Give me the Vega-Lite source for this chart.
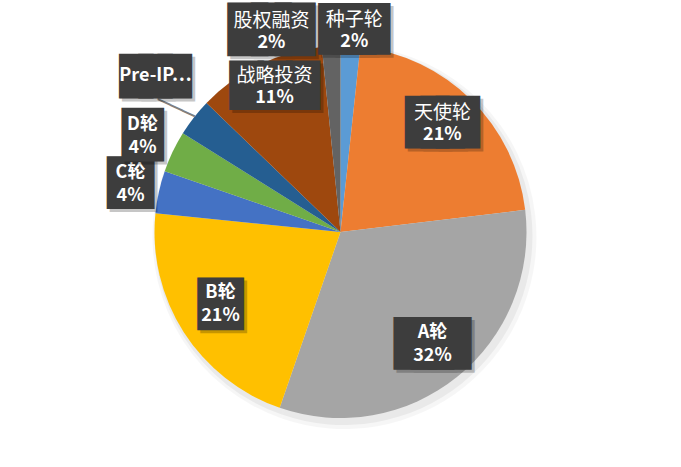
{
  "$schema": "https://vega.github.io/schema/vega-lite/v6.json",
  "width": 681,
  "height": 467,
  "autosize": {"type": "fit", "contains": "padding"},
  "padding": {"left": 0, "right": 0, "top": 0, "bottom": 3},
  "background": "white",
  "data": {
    "values": [
      {"name": "种子轮", "share": 0.017},
      {"name": "天使轮", "share": 0.214},
      {"name": "A轮", "share": 0.322},
      {"name": "B轮", "share": 0.213},
      {"name": "C轮", "share": 0.037},
      {"name": "D轮", "share": 0.036},
      {"name": "Pre-IPO", "share": 0.033},
      {"name": "战略投资", "share": 0.112},
      {"name": "股权融资", "share": 0.016}
    ]
  },
  "transform": [{"stack": "share", "groupby": [], "as": ["t0", "t1"]}],
  "layer": [
    {
      "mark": {"type": "arc", "radius": 192, "color": "#000", "opacity": 0.035, "xOffset": 4, "yOffset": 5},
      "encoding": {
        "theta": {"field": "t0", "type": "quantitative", "stack": null, "scale": {"domain": [0, 1]}},
        "theta2": {"field": "t1"}
      }
    },
    {
      "mark": {"type": "arc", "radius": 189, "color": "#000", "opacity": 0.05, "xOffset": 3, "yOffset": 4},
      "encoding": {
        "theta": {"field": "t0", "type": "quantitative", "stack": null, "scale": {"domain": [0, 1]}},
        "theta2": {"field": "t1"}
      }
    },
    {
      "mark": {"type": "arc", "radius": 186},
      "encoding": {
        "theta": {"field": "t0", "type": "quantitative", "stack": null, "scale": {"domain": [0, 1]}},
        "theta2": {"field": "t1"},
        "color": {
          "field": "name",
          "type": "nominal",
          "scale": {
            "domain": ["种子轮", "天使轮", "A轮", "B轮", "C轮", "D轮", "Pre-IPO", "战略投资", "股权融资"],
            "range": ["#5B9BD5", "#ED7D31", "#A5A5A5", "#FFC000", "#4472C4", "#70AD47", "#255E91", "#9E480E", "#636363"]
          },
          "legend": null
        }
      }
    },
    {
      "transform": [{"filter": "datum.name === 'Pre-IPO'"}],
      "mark": {"type": "text", "text": "───", "font": "DejaVu Sans", "fontSize": 22.5, "color": "#7f7f7f", "angle": 24.7, "radius": 205.7, "thetaOffset": 0.085, "baseline": "middle", "align": "center"},
      "encoding": {"theta": {"field": "t0", "type": "quantitative", "scale": {"domain": [0, 1]}}}
    },
    {
      "transform": [{"filter": "datum.name === '种子轮'"}],
      "encoding": {"theta": {"field": "t0", "type": "quantitative", "scale": {"domain": [0, 1]}}},
      "layer": [
        {"mark": {"type": "text", "text": "███", "font": "DejaVu Sans", "fontSize": 18.3, "fill": "#000", "stroke": "#000", "strokeWidth": 30, "strokeJoin": "miter", "opacity": 0.22, "radius": 203.5, "thetaOffset": 0.068, "dx": 3, "dy": 4, "baseline": "middle", "align": "center"}},
        {"mark": {"type": "text", "text": "███", "font": "DejaVu Sans", "fontSize": 18.3, "fill": "#3d3d3d", "stroke": "#3d3d3d", "strokeWidth": 30, "strokeJoin": "miter", "radius": 203.5, "thetaOffset": 0.068, "dy": 1, "baseline": "middle", "align": "center"}},
        {"mark": {"type": "text", "font": "Noto Sans CJK SC", "fontSize": 19, "color": "white", "radius": 203.5, "thetaOffset": 0.068, "dy": -9, "baseline": "middle", "align": "center"}, "encoding": {"text": {"field": "name"}}},
        {"mark": {"type": "text", "font": "Noto Sans CJK SC", "fontSize": 18, "fontWeight": "bold", "color": "white", "radius": 203.5, "thetaOffset": 0.068, "dy": 13, "baseline": "middle", "align": "center"}, "encoding": {"text": {"field": "share", "format": ".0%"}}}
      ]
    },
    {
      "transform": [{"filter": "datum.name === '天使轮'"}],
      "encoding": {"theta": {"field": "t0", "type": "quantitative", "scale": {"domain": [0, 1]}}},
      "layer": [
        {"mark": {"type": "text", "text": "███", "font": "DejaVu Sans", "fontSize": 20, "fill": "#000", "stroke": "#000", "strokeWidth": 29, "strokeJoin": "miter", "opacity": 0.22, "radius": 150, "thetaOffset": 0.64, "dx": 3, "dy": 4, "baseline": "middle", "align": "center"}},
        {"mark": {"type": "text", "text": "███", "font": "DejaVu Sans", "fontSize": 20, "fill": "#3d3d3d", "stroke": "#3d3d3d", "strokeWidth": 29, "strokeJoin": "miter", "radius": 150, "thetaOffset": 0.64, "dy": 1, "baseline": "middle", "align": "center"}},
        {"mark": {"type": "text", "font": "Noto Sans CJK SC", "fontSize": 19, "color": "white", "radius": 150, "thetaOffset": 0.64, "dy": -9, "baseline": "middle", "align": "center"}, "encoding": {"text": {"field": "name"}}},
        {"mark": {"type": "text", "font": "Noto Sans CJK SC", "fontSize": 18, "fontWeight": "bold", "color": "white", "radius": 150, "thetaOffset": 0.64, "dy": 13, "baseline": "middle", "align": "center"}, "encoding": {"text": {"field": "share", "format": ".0%"}}}
      ]
    },
    {
      "transform": [{"filter": "datum.name === 'A轮'"}],
      "encoding": {"theta": {"field": "t0", "type": "quantitative", "scale": {"domain": [0, 1]}}},
      "layer": [
        {"mark": {"type": "text", "text": "███", "font": "DejaVu Sans", "fontSize": 22.5, "fill": "#000", "stroke": "#000", "strokeWidth": 26, "strokeJoin": "miter", "opacity": 0.22, "radius": 144.2, "thetaOffset": 0.999, "dx": 3, "dy": 4, "baseline": "middle", "align": "center"}},
        {"mark": {"type": "text", "text": "███", "font": "DejaVu Sans", "fontSize": 22.5, "fill": "#3d3d3d", "stroke": "#3d3d3d", "strokeWidth": 26, "strokeJoin": "miter", "radius": 144.2, "thetaOffset": 0.999, "dy": 1, "baseline": "middle", "align": "center"}},
        {"mark": {"type": "text", "font": "Noto Sans CJK SC", "fontSize": 18, "fontWeight": "bold", "color": "white", "radius": 144.2, "thetaOffset": 0.999, "dy": -10, "baseline": "middle", "align": "center"}, "encoding": {"text": {"field": "name"}}},
        {"mark": {"type": "text", "font": "Noto Sans CJK SC", "fontSize": 18, "fontWeight": "bold", "color": "white", "radius": 144.2, "thetaOffset": 0.999, "dy": 13, "baseline": "middle", "align": "center"}, "encoding": {"text": {"field": "share", "format": ".0%"}}}
      ]
    },
    {
      "transform": [{"filter": "datum.name === 'B轮'"}],
      "encoding": {"theta": {"field": "t0", "type": "quantitative", "scale": {"domain": [0, 1]}}},
      "layer": [
        {"mark": {"type": "text", "text": "█", "font": "DejaVu Sans", "fontSize": 15, "fill": "#000", "stroke": "#000", "strokeWidth": 35, "strokeJoin": "miter", "opacity": 0.22, "radius": 139.4, "thetaOffset": 0.704, "dx": 3, "dy": 4, "baseline": "middle", "align": "center"}},
        {"mark": {"type": "text", "text": "█", "font": "DejaVu Sans", "fontSize": 15, "fill": "#3d3d3d", "stroke": "#3d3d3d", "strokeWidth": 35, "strokeJoin": "miter", "radius": 139.4, "thetaOffset": 0.704, "dy": 1, "baseline": "middle", "align": "center"}},
        {"mark": {"type": "text", "font": "Noto Sans CJK SC", "fontSize": 18, "fontWeight": "bold", "color": "white", "radius": 139.4, "thetaOffset": 0.704, "dy": -10, "baseline": "middle", "align": "center"}, "encoding": {"text": {"field": "name"}}},
        {"mark": {"type": "text", "font": "Noto Sans CJK SC", "fontSize": 18, "fontWeight": "bold", "color": "white", "radius": 139.4, "thetaOffset": 0.704, "dy": 13, "baseline": "middle", "align": "center"}, "encoding": {"text": {"field": "share", "format": ".0%"}}}
      ]
    },
    {
      "transform": [{"filter": "datum.name === 'C轮'"}],
      "encoding": {"theta": {"field": "t0", "type": "quantitative", "scale": {"domain": [0, 1]}}},
      "layer": [
        {"mark": {"type": "text", "text": "█", "font": "DejaVu Sans", "fontSize": 12.5, "fill": "#000", "stroke": "#000", "strokeWidth": 38, "strokeJoin": "miter", "opacity": 0.22, "radius": 215.6, "thetaOffset": 0.128, "dx": 3, "dy": 3, "baseline": "middle", "align": "center"}},
        {"mark": {"type": "text", "text": "█", "font": "DejaVu Sans", "fontSize": 12.5, "fill": "#3d3d3d", "stroke": "#3d3d3d", "strokeWidth": 38, "strokeJoin": "miter", "radius": 215.6, "thetaOffset": 0.128, "dy": 0, "baseline": "middle", "align": "center"}},
        {"mark": {"type": "text", "font": "Noto Sans CJK SC", "fontSize": 18, "fontWeight": "bold", "color": "white", "radius": 215.6, "thetaOffset": 0.128, "dy": -10, "baseline": "middle", "align": "center"}, "encoding": {"text": {"field": "name"}}},
        {"mark": {"type": "text", "font": "Noto Sans CJK SC", "fontSize": 18, "fontWeight": "bold", "color": "white", "radius": 215.6, "thetaOffset": 0.128, "dy": 13, "baseline": "middle", "align": "center"}, "encoding": {"text": {"field": "share", "format": ".0%"}}}
      ]
    },
    {
      "transform": [{"filter": "datum.name === 'D轮'"}],
      "encoding": {"theta": {"field": "t0", "type": "quantitative", "scale": {"domain": [0, 1]}}},
      "layer": [
        {"mark": {"type": "text", "text": "█", "font": "DejaVu Sans", "fontSize": 27.5, "fill": "#000", "stroke": "#000", "strokeWidth": 21, "strokeJoin": "miter", "opacity": 0.22, "radius": 220.5, "thetaOffset": 0.123, "dx": 3, "dy": 4, "baseline": "middle", "align": "center"}},
        {"mark": {"type": "text", "text": "█", "font": "DejaVu Sans", "fontSize": 27.5, "fill": "#3d3d3d", "stroke": "#3d3d3d", "strokeWidth": 21, "strokeJoin": "miter", "radius": 220.5, "thetaOffset": 0.123, "dy": 1, "baseline": "middle", "align": "center"}},
        {"mark": {"type": "text", "font": "Noto Sans CJK SC", "fontSize": 18, "fontWeight": "bold", "color": "white", "radius": 220.5, "thetaOffset": 0.123, "dy": -10, "baseline": "middle", "align": "center"}, "encoding": {"text": {"field": "name"}}},
        {"mark": {"type": "text", "font": "Noto Sans CJK SC", "fontSize": 18, "fontWeight": "bold", "color": "white", "radius": 220.5, "thetaOffset": 0.123, "dy": 13, "baseline": "middle", "align": "center"}, "encoding": {"text": {"field": "share", "format": ".0%"}}}
      ]
    },
    {
      "transform": [{"filter": "datum.name === 'Pre-IPO'"}],
      "encoding": {"theta": {"field": "t0", "type": "quantitative", "scale": {"domain": [0, 1]}}},
      "layer": [
        {"mark": {"type": "text", "text": "███", "font": "DejaVu Sans", "fontSize": 25, "fill": "#000", "stroke": "#000", "strokeWidth": 15, "strokeJoin": "miter", "opacity": 0.22, "radius": 242, "thetaOffset": 0.141, "dx": 3, "dy": 4, "baseline": "middle", "align": "center"}},
        {"mark": {"type": "text", "text": "███", "font": "DejaVu Sans", "fontSize": 25, "fill": "#3d3d3d", "stroke": "#3d3d3d", "strokeWidth": 15, "strokeJoin": "miter", "radius": 242, "thetaOffset": 0.141, "dy": 1, "baseline": "middle", "align": "center"}},
        {"mark": {"type": "text", "font": "Noto Sans CJK SC", "fontSize": 18, "fontWeight": "bold", "color": "white", "radius": 242, "thetaOffset": 0.141, "dy": 0, "baseline": "middle", "align": "center"}, "encoding": {"text": {"value": "Pre-IP…"}}}
      ]
    },
    {
      "transform": [{"filter": "datum.name === '战略投资'"}],
      "encoding": {"theta": {"field": "t0", "type": "quantitative", "scale": {"domain": [0, 1]}}},
      "layer": [
        {"mark": {"type": "text", "text": "███", "font": "DejaVu Sans", "fontSize": 36.7, "fill": "#000", "stroke": "#000", "strokeWidth": 6, "strokeJoin": "miter", "opacity": 0.22, "radius": 161, "thetaOffset": 0.382, "dx": 3, "dy": 5, "baseline": "middle", "align": "center"}},
        {"mark": {"type": "text", "text": "███", "font": "DejaVu Sans", "fontSize": 36.7, "fill": "#3d3d3d", "stroke": "#3d3d3d", "strokeWidth": 6, "strokeJoin": "miter", "radius": 161, "thetaOffset": 0.382, "dy": 2, "baseline": "middle", "align": "center"}},
        {"mark": {"type": "text", "font": "Noto Sans CJK SC", "fontSize": 19, "color": "white", "radius": 161, "thetaOffset": 0.382, "dy": -9, "baseline": "middle", "align": "center"}, "encoding": {"text": {"field": "name"}}},
        {"mark": {"type": "text", "font": "Noto Sans CJK SC", "fontSize": 18, "fontWeight": "bold", "color": "white", "radius": 161, "thetaOffset": 0.382, "dy": 13, "baseline": "middle", "align": "center"}, "encoding": {"text": {"field": "share", "format": ".0%"}}}
      ]
    },
    {
      "transform": [{"filter": "datum.name === '股权融资'"}],
      "encoding": {"theta": {"field": "t0", "type": "quantitative", "scale": {"domain": [0, 1]}}},
      "layer": [
        {"mark": {"type": "text", "text": "███", "font": "DejaVu Sans", "fontSize": 30.8, "fill": "#000", "stroke": "#000", "strokeWidth": 17, "strokeJoin": "miter", "opacity": 0.22, "radius": 213.5, "thetaOffset": -0.229, "dx": 3, "dy": 4, "baseline": "middle", "align": "center"}},
        {"mark": {"type": "text", "text": "███", "font": "DejaVu Sans", "fontSize": 30.8, "fill": "#3d3d3d", "stroke": "#3d3d3d", "strokeWidth": 17, "strokeJoin": "miter", "radius": 213.5, "thetaOffset": -0.229, "dy": 1, "baseline": "middle", "align": "center"}},
        {"mark": {"type": "text", "font": "Noto Sans CJK SC", "fontSize": 19, "color": "white", "radius": 213.5, "thetaOffset": -0.229, "dy": -9, "baseline": "middle", "align": "center"}, "encoding": {"text": {"field": "name"}}},
        {"mark": {"type": "text", "font": "Noto Sans CJK SC", "fontSize": 18, "fontWeight": "bold", "color": "white", "radius": 213.5, "thetaOffset": -0.229, "dy": 13, "baseline": "middle", "align": "center"}, "encoding": {"text": {"field": "share", "format": ".0%"}}}
      ]
    }
  ],
  "config": {"view": {"stroke": null}}
}
